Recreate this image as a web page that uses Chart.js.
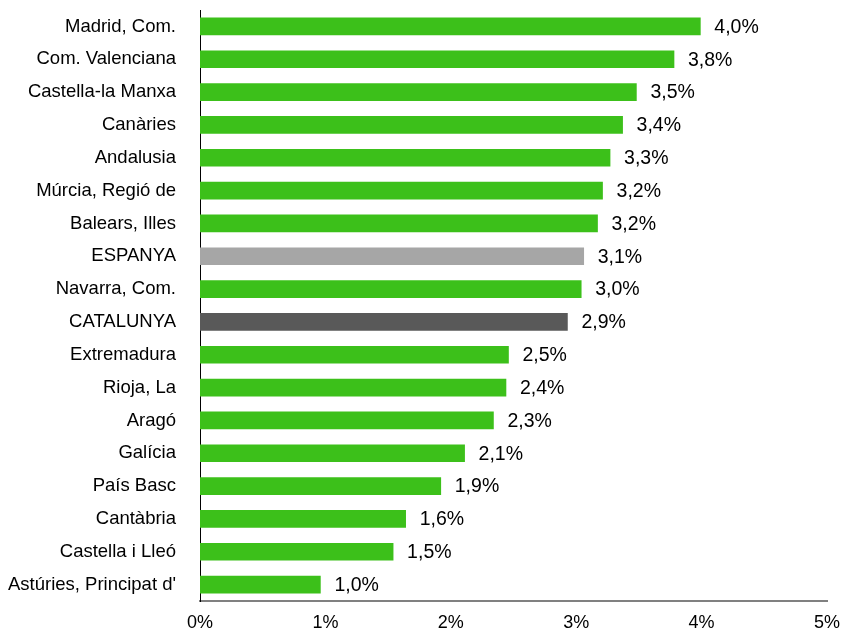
<!DOCTYPE html>
<html>
<head>
<meta charset="utf-8">
<script src="https://cdn.jsdelivr.net/npm/chart.js@4"></script>
<style>
  html, body { margin: 0; padding: 0; background: #fff; }
  #wrap { width: 842px; height: 630px; }
</style>
</head>
<body>
<div id="wrap"><canvas id="chart" width="842" height="630"></canvas></div>
<script>
const regions = [
  "Madrid, Com.", "Com. Valenciana", "Castella-la Manxa", "Canàries", "Andalusia",
  "Múrcia, Regió de", "Balears, Illes", "ESPANYA", "Navarra, Com.", "CATALUNYA",
  "Extremadura", "Rioja, La", "Aragó", "Galícia", "País Basc", "Cantàbria",
  "Castella i Lleó", "Astúries, Principat d'"
];
const values = [3.99, 3.78, 3.48, 3.37, 3.27, 3.21, 3.17, 3.06, 3.04, 2.93, 2.46, 2.44, 2.34, 2.11, 1.92, 1.64, 1.54, 0.96];
const xTicks = [0, 1, 2, 3, 4, 5];

const colors = regions.map(r => r === "ESPANYA" ? "#a6a6a6" : r === "CATALUNYA" ? "#595959" : "#3cc01a");
const font = "Arial, 'Liberation Sans', sans-serif";

// valors al final de cada barra
const valueLabels = {
  id: "valueLabels",
  afterDatasetsDraw(chart) {
    const ctx = chart.ctx;
    const meta = chart.getDatasetMeta(0);
    ctx.save();
    ctx.font = "19.5px " + font;
    ctx.fillStyle = "#000";
    ctx.textBaseline = "middle";
    ctx.textAlign = "left";
    meta.data.forEach((bar, i) => {
      const txt = values[i].toFixed(1).replace(".", ",") + "%";
      ctx.fillText(txt, bar.x + 14, bar.y + 1);
    });
    ctx.restore();
  }
};

new Chart(document.getElementById("chart"), {
  type: "bar",
  data: {
    labels: regions,
    datasets: [{ data: values, backgroundColor: colors, barThickness: 17 }]
  },
  options: {
    indexAxis: "y",
    responsive: false,
    animation: false,
    layout: { padding: { top: 10, right: 15, left: 0, bottom: 0 } },
    plugins: { legend: { display: false }, tooltip: { enabled: false } },
    scales: {
      x: {
        min: 0, max: 5,
        afterBuildTicks(axis) { axis.ticks = xTicks.map(v => ({ value: v })); },
        afterFit(axis) {
          axis.height = 29;
          axis.paddingLeft = 0; axis.paddingRight = 0;
        },
        grid: { display: false, drawTicks: false },
        border: { color: "#808080", width: 2 },
        ticks: {
          color: "#000", padding: 11,
          font: { family: font, size: 18 },
          callback: v => v + "%"
        }
      },
      y: {
        afterFit(axis) {
          axis.width = 200;
          axis.paddingTop = 0; axis.paddingBottom = 0;
        },
        grid: { display: false, drawTicks: false },
        border: { color: "#000", width: 1 },
        ticks: {
          color: "#000", padding: 24,
          font: { family: font, size: 18.5 }
        }
      }
    }
  },
  plugins: [valueLabels]
});
</script>
</body>
</html>
